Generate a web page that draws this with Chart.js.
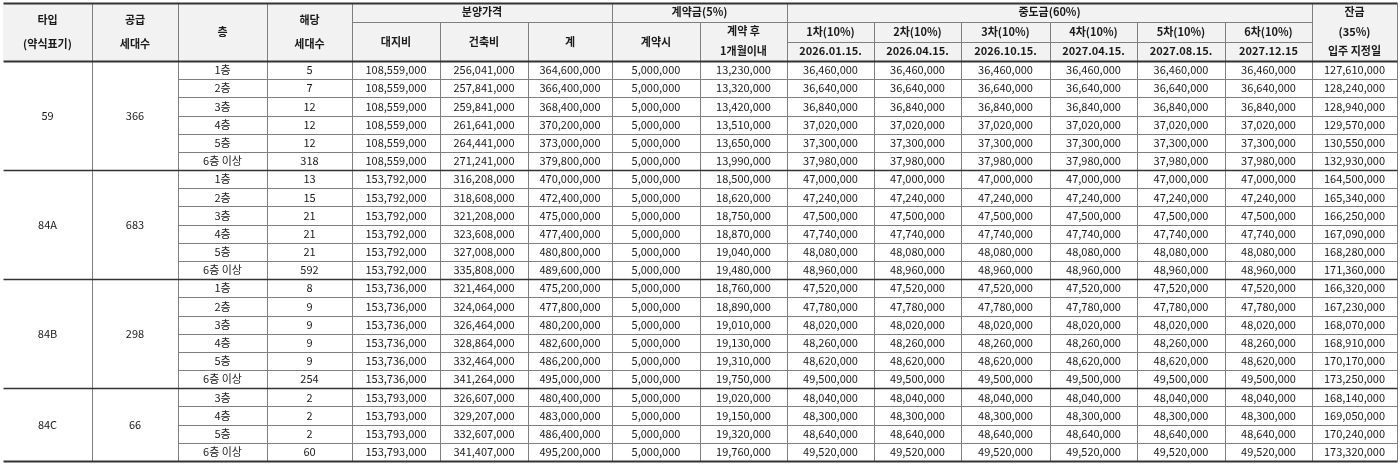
<!DOCTYPE html>
<html><head><meta charset="utf-8">
<script src="https://cdn.jsdelivr.net/npm/chart.js@4/dist/chart.umd.min.js"></script>
<style>body{margin:0;background:#fff}#wrap{width:1400px;height:465px}</style>
</head><body><div id="wrap"><canvas id="tbl"></canvas></div>
<script>
// 분양가 표 데이터
const types = ['59', '84A', '84B', '84C'];
const supply = [366, 683, 298, 66];
const groupRows = [6, 6, 6, 4];
const floors = ['1층','2층','3층','4층','5층','6층 이상','1층','2층','3층','4층','5층','6층 이상','1층','2층','3층','4층','5층','6층 이상','3층','4층','5층','6층 이상'];
const units = [5,7,12,12,12,318, 13,15,21,21,21,592, 8,9,9,9,9,254, 2,2,2,60];
const landCost = [108559000,108559000,108559000,108559000,108559000,108559000, 153792000,153792000,153792000,153792000,153792000,153792000, 153736000,153736000,153736000,153736000,153736000,153736000, 153793000,153793000,153793000,153793000];
const buildCost = [256041000,257841000,259841000,261641000,264441000,271241000, 316208000,318608000,321208000,323608000,327008000,335808000, 321464000,324064000,326464000,328864000,332464000,341264000, 326607000,329207000,332607000,341407000];
const totalPrice = [364600000,366400000,368400000,370200000,373000000,379800000, 470000000,472400000,475000000,477400000,480800000,489600000, 475200000,477800000,480200000,482600000,486200000,495000000, 480400000,483000000,486400000,495200000];
const deposit = Array(22).fill(5000000);
const afterMonth = [13230000,13320000,13420000,13510000,13650000,13990000, 18500000,18620000,18750000,18870000,19040000,19480000, 18760000,18890000,19010000,19130000,19310000,19750000, 19020000,19150000,19320000,19760000];
const midPayment = [36460000,36640000,36840000,37020000,37300000,37980000, 47000000,47240000,47500000,47740000,48080000,48960000, 47520000,47780000,48020000,48260000,48620000,49500000, 48040000,48300000,48640000,49520000];
const balance = [127610000,128240000,128940000,129570000,130550000,132930000, 164500000,165340000,166250000,167090000,168280000,171360000, 166320000,167230000,168070000,168910000,170170000,173250000, 168140000,169050000,170240000,173320000];
const midLabels = ['1차(10%)','2차(10%)','3차(10%)','4차(10%)','5차(10%)','6차(10%)'];
const midDates = ['2026.01.15.','2026.04.15.','2026.10.15.','2027.04.15.','2027.08.15.','2027.12.15'];

// 배치 (픽셀 단위 축 값)
const colX = [3,92,178,267,352,440,528,612,700,787,874,961,1050,1137,1225,1312,1397];
const headY = [3,22,42,61];
const bodyBottom = 461;

const fmt = v => v.toLocaleString('en-US');
const FONT = '"Noto Sans CJK KR", "Noto Sans", sans-serif';

const tablePlugin = {
    id: 'tablePlugin',
    afterDraw(chart) {
        const ctx = chart.ctx;
        const sx = chart.scales.x, sy = chart.scales.y;
        const X = v => sx.getPixelForValue(v);
        const Y = v => sy.getPixelForValue(v);
        const rowH = (bodyBottom - headY[3]) / floors.length;
        const rowY = i => headY[3] + i * rowH;

        ctx.save();
        // 헤더 배경
        ctx.fillStyle = '#f2f2f2';
        ctx.fillRect(X(colX[0]), Y(headY[0]), X(colX[16]) - X(colX[0]), Y(headY[3]) - Y(headY[0]));

        const line = (x1, y1, x2, y2, w, c) => {
            ctx.beginPath();
            ctx.strokeStyle = c || '#7f7f7f';
            ctx.lineWidth = w || 1;
            ctx.moveTo(Math.round(X(x1)) + 0.5, Math.round(Y(y1)) + 0.5);
            ctx.lineTo(Math.round(X(x2)) + 0.5, Math.round(Y(y2)) + 0.5);
            ctx.stroke();
        };
        const text = (s, cx, cy, bold, size) => {
            ctx.font = (bold ? 'bold ' : '') + (size || 11) + 'px ' + FONT;
            ctx.fillStyle = '#1a1a1a';
            ctx.textAlign = 'center';
            ctx.textBaseline = 'middle';
            ctx.fillText(s, X(cx), Y(cy));
        };
        const mid = (a, b) => (colX[a] + colX[b]) / 2;

        // 본문 가로선
        for (let i = 1; i < floors.length; i++) line(colX[2], rowY(i), colX[16], rowY(i));
        // 헤더 가로선
        line(colX[4], headY[1], colX[9], headY[1]);
        line(colX[9], headY[1], colX[15], headY[1]);
        line(colX[9], headY[2], colX[15], headY[2]);
        // 세로선
        for (let c = 1; c < 16; c++) {
            let top = headY[0];
            if (c === 5 || c === 6 || c === 8 || (c >= 10 && c <= 14)) top = headY[1];
            line(colX[c], top, colX[c], bodyBottom);
        }
        line(colX[16], headY[0], colX[16], bodyBottom);
        // 굵은 선
        line(colX[0], headY[0], colX[16], headY[0], 2, '#333');
        line(colX[0], headY[3], colX[16], headY[3], 2, '#333');
        let r = 0;
        groupRows.forEach((n, g) => {
            r += n;
            line(colX[0], rowY(r), colX[16], rowY(r), g === groupRows.length - 1 ? 2 : 1.5, '#333');
        });

        // 헤더 텍스트
        text('타입', mid(0, 1), 20, true); text('(약식표기)', mid(0, 1), 44, true);
        text('공급', mid(1, 2), 20, true); text('세대수', mid(1, 2), 44, true);
        text('층', mid(2, 3), 32, true);
        text('해당', mid(3, 4), 20, true); text('세대수', mid(3, 4), 44, true);
        text('분양가격', mid(4, 7), 12, true);
        text('대지비', mid(4, 5), 42, true); text('건축비', mid(5, 6), 42, true); text('계', mid(6, 7), 42, true);
        text('계약금(5%)', mid(7, 9), 12, true);
        text('계약시', mid(7, 8), 42, true);
        text('계약 후', mid(8, 9), 31, true); text('1개월이내', mid(8, 9), 51, true);
        text('중도금(60%)', mid(9, 15), 12, true);
        midLabels.forEach((s, k) => text(s, mid(9 + k, 10 + k), 32, true));
        midDates.forEach((s, k) => text(s, mid(9 + k, 10 + k), 51, true));
        text('잔금', mid(15, 16), 12, true); text('(35%)', mid(15, 16), 32, true); text('입주 지정일', mid(15, 16), 51, true);

        // 그룹 텍스트
        r = 0;
        groupRows.forEach((n, g) => {
            const cy = rowY(r + n / 2);
            text(types[g], mid(0, 1), cy);
            text(String(supply[g]), mid(1, 2), cy);
            r += n;
        });
        // 본문
        floors.forEach((f, i) => {
            const cy = rowY(i + 0.5);
            text(f, mid(2, 3), cy);
            text(String(units[i]), mid(3, 4), cy);
            text(fmt(landCost[i]), mid(4, 5), cy);
            text(fmt(buildCost[i]), mid(5, 6), cy);
            text(fmt(totalPrice[i]), mid(6, 7), cy);
            text(fmt(deposit[i]), mid(7, 8), cy);
            text(fmt(afterMonth[i]), mid(8, 9), cy);
            for (let k = 0; k < 6; k++) text(fmt(midPayment[i]), mid(9 + k, 10 + k), cy);
            text(fmt(balance[i]), mid(15, 16), cy);
        });
        ctx.restore();
    }
};

new Chart(document.getElementById('tbl').getContext('2d'), {
    type: 'scatter',
    data: { datasets: [{ data: [] }] },
    options: {
        responsive: true,
        maintainAspectRatio: false,
        animation: false,
        layout: { padding: 0 },
        scales: {
            x: { type: 'linear', min: 0, max: 1400, display: false },
            y: { type: 'linear', min: 0, max: 465, reverse: true, display: false }
        },
        plugins: { legend: { display: false }, tooltip: { enabled: false } }
    },
    plugins: [tablePlugin]
});
</script>
</body></html>
